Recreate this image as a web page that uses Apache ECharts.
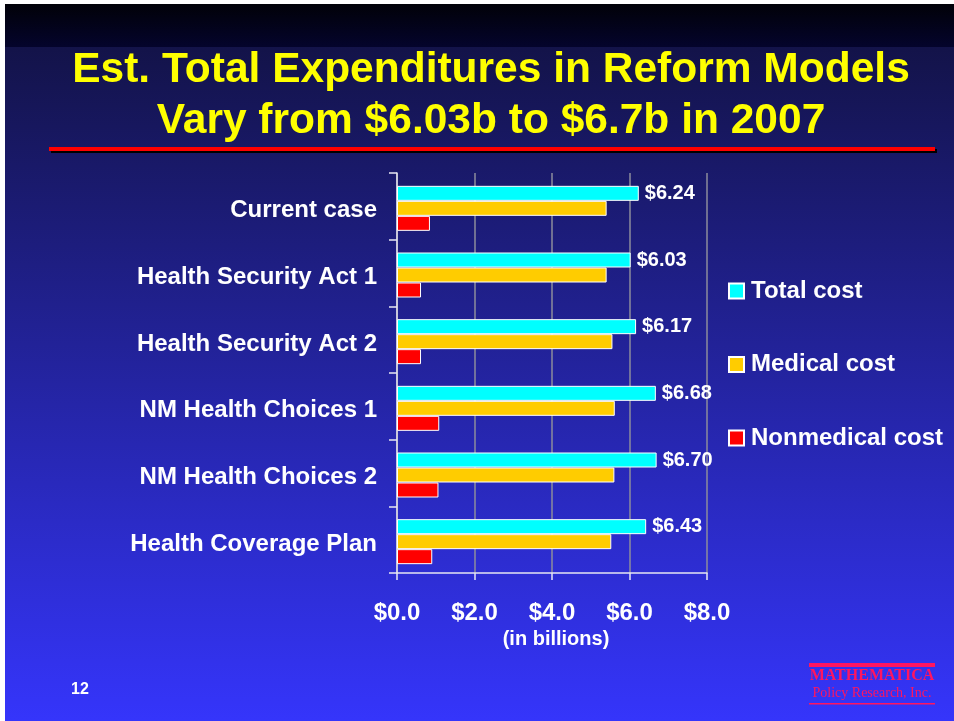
<!DOCTYPE html>
<html>
<head>
<meta charset="utf-8">
<script src="https://cdn.jsdelivr.net/npm/echarts@6/dist/echarts.min.js"></script>
<style>
html,body{margin:0;padding:0;background:#ffffff;width:954px;height:721px;overflow:hidden;}
#bg{position:absolute;left:5px;top:4px;width:949px;height:717px;
 background:linear-gradient(to bottom,#010108 0px,#04042c 43px,#131349 43px,#3535fb 717px);}
#chart{position:absolute;left:0;top:0;width:954px;height:721px;}
</style>
</head>
<body>
<div id="bg"></div>
<div id="chart"></div>
<script>
const categories = ["Current case","Health Security Act 1","Health Security Act 2","NM Health Choices 1","NM Health Choices 2","Health Coverage Plan"];
const totalCost = [6.24, 6.03, 6.17, 6.68, 6.70, 6.43];
const medicalCost = [5.41, 5.41, 5.56, 5.62, 5.61, 5.53];
const nonmedicalCost = [0.85, 0.62, 0.62, 1.09, 1.07, 0.91];
const xTicks = [0, 2, 4, 6, 8];
const seriesNames = ["Total cost","Medical cost","Nonmedical cost"];
const titleLines = ["Est. Total Expenditures in Reform Models","Vary from $6.03b to $6.7b in 2007"];

const chart = echarts.init(document.getElementById('chart'), null, {renderer:'canvas'});
const barBorder = {borderColor:'#ffffff', borderWidth:1};
const FF = '"Liberation Sans", Arial';
const option = {
  backgroundColor:'transparent',
  animation:false,
  grid:{left:397, top:173, width:310, height:400, containLabel:false},
  xAxis:{
    type:'value', min:xTicks[0], max:xTicks[xTicks.length-1], interval:2,
    axisLine:{show:true, lineStyle:{color:'#e6e6f2', width:1.5}},
    axisTick:{show:true, length:7, lineStyle:{color:'#e6e6f2', width:1.5}},
    splitLine:{show:true, lineStyle:{color:'#8c8c9c', width:1.5}},
    axisLabel:{color:'#ffffff', fontFamily:FF, fontWeight:'bold', fontSize:24, margin:28,
      formatter:v=>'$'+v.toFixed(1)},
    name:'(in billions)', nameLocation:'middle', nameGap:56,
    nameTextStyle:{color:'#ffffff', fontFamily:FF, fontWeight:'bold', fontSize:20, padding:[0,0,0,8]}
  },
  yAxis:{
    type:'category', data:categories, inverse:true,
    axisLine:{show:true, lineStyle:{color:'#e6e6f2', width:1.5}},
    axisTick:{show:true, length:8, lineStyle:{color:'#e6e6f2', width:1.5}},
    axisLabel:{margin:20, formatter:v=>'{c|'+v+'}',
      rich:{c:{color:'#ffffff', fontFamily:FF, fontWeight:'bold', fontSize:24, padding:[9,0,0,0]}}}
  },
  legend:{
    orient:'vertical', left:728, top:279, padding:0, itemWidth:15, itemHeight:15, itemGap:49.5,
    icon:'rect',
    textStyle:{color:'#ffffff', fontFamily:FF, fontWeight:'bold', fontSize:24, lineHeight:24, padding:[0,0,0,2]},
    data:seriesNames
  },
  series:[
    {name:'spacer', type:'bar', data:[], barWidth:4, barGap:'0%', silent:true},
    {name:seriesNames[0], type:'bar', data:totalCost, barWidth:15, barGap:'0%',
      itemStyle:Object.assign({color:'#00ffff'}, barBorder),
      label:{show:true, position:'right', distance:6, color:'#ffffff', fontFamily:FF, fontWeight:'bold', fontSize:20,
        formatter:p=>'$'+p.value.toFixed(2)}},
    {name:seriesNames[1], type:'bar', data:medicalCost, barWidth:15, barGap:'0%',
      itemStyle:Object.assign({color:'#ffcc00'}, barBorder)},
    {name:seriesNames[2], type:'bar', data:nonmedicalCost, barWidth:15, barGap:'0%',
      itemStyle:Object.assign({color:'#ff0000'}, barBorder)}
  ],
  graphic:[
    {type:'text', x:491, y:49, style:{text:titleLines[0], font:'bold 42.5px "Liberation Sans", Arial', fill:'#ffff00', textAlign:'center', textVerticalAlign:'top'}},
    {type:'text', x:491, y:100, style:{text:titleLines[1], font:'bold 42.5px "Liberation Sans", Arial', fill:'#ffff00', textAlign:'center', textVerticalAlign:'top'}},
    {type:'rect', shape:{x:51, y:149, width:886, height:4}, style:{fill:'#000000'}},
    {type:'rect', shape:{x:49, y:147, width:886, height:4}, style:{fill:'#ff0000'}},
    {type:'text', x:80, y:690, style:{text:'12', font:'bold 16px "Liberation Sans", Arial', fill:'#ffffff', textAlign:'center', textVerticalAlign:'middle'}},
    {type:'rect', shape:{x:809, y:663, width:126, height:4}, style:{fill:'#ff1560'}},
    {type:'text', x:872, y:676, style:{text:'MATHEMATICA', font:'bold 16px "Liberation Serif", serif', fill:'#ff1560', textAlign:'center', textVerticalAlign:'middle'}},
    {type:'text', x:872, y:693, style:{text:'Policy Research, Inc.', font:'14px "Liberation Serif", serif', fill:'#ff1560', textAlign:'center', textVerticalAlign:'middle'}},
    {type:'rect', shape:{x:809, y:703, width:126, height:1.5}, style:{fill:'#ff1560'}}
  ]
};
chart.setOption(option);
</script>
</body>
</html>
